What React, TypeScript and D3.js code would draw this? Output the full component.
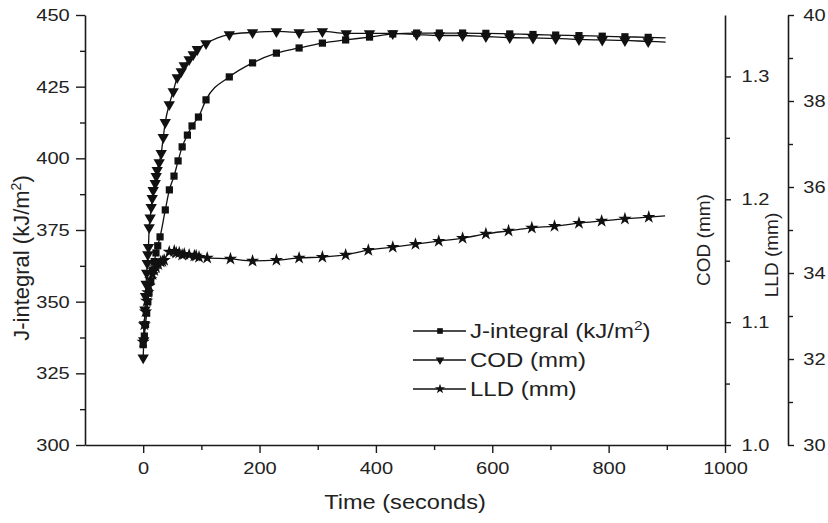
import React, { useEffect, useRef } from "react";
import * as d3 from "d3";

// time (s) and J-integral (kJ/m2)
const jTime = [0, 2, 4, 6, 8, 10, 13, 16, 19, 22, 25, 29, 38, 45, 53, 60, 67, 76, 84, 95, 108, 148, 188, 229, 268, 308, 348, 389, 429, 470, 509, 549, 589, 630, 670, 709, 749, 789, 828, 868, 898];
const jValue = [335, 338, 342, 346, 350, 353, 357, 361, 364, 367, 369.5, 372.6, 382, 389, 393.8, 399.1, 404, 408.1, 411.3, 414.4, 420.4, 428.4, 433.3, 436.7, 438.5, 440.2, 441.3, 442.3, 443.4, 443.7, 443.7, 443.7, 443.6, 443.4, 443.2, 443.0, 442.8, 442.6, 442.4, 442.2, 442.0];

// COD (mm)
const codTime = [0, 1, 2, 3, 4, 5, 6, 7, 8, 9, 10.3, 12, 13.8, 15.5, 17.2, 20.7, 22.4, 24.1, 27.5, 31, 34.5, 37.9, 44.8, 51.6, 58.5, 65.4, 70.6, 79, 86, 93, 108, 148, 188, 229, 268, 308, 349, 389, 429, 470, 509, 549, 589, 630, 670, 709, 749, 789, 828, 868, 898];
const codValue = [1.071, 1.085, 1.098, 1.11, 1.121, 1.131, 1.14, 1.148, 1.155, 1.161, 1.177, 1.185, 1.1935, 1.2008, 1.2073, 1.213, 1.2187, 1.2236, 1.23, 1.2374, 1.2504, 1.2626, 1.2772, 1.2878, 1.2992, 1.304, 1.3089, 1.3138, 1.3179, 1.322, 1.3268, 1.3341, 1.3358, 1.3366, 1.3358, 1.3366, 1.335, 1.335, 1.335, 1.3341, 1.3333, 1.3333, 1.3325, 1.3317, 1.3313, 1.3309, 1.3301, 1.3297, 1.3293, 1.3285, 1.328];

// LLD (mm)
const lldTime = [0, 2, 4, 6, 8, 10, 13, 16, 19, 22, 26, 30, 33, 36, 44.8, 53.4, 56.8, 62, 67, 70.6, 79, 88, 91, 96, 110, 150, 188, 229, 268, 308, 348, 387, 429, 468, 508, 549, 589, 628, 668, 707, 749, 788, 828, 869, 897];
const lldValue = [32.4, 32.8, 33.1, 33.35, 33.55, 33.7, 33.85, 33.97, 34.06, 34.13, 34.2, 34.26, 34.27, 34.3, 34.49, 34.51, 34.47, 34.47, 34.42, 34.44, 34.42, 34.4, 34.4, 34.37, 34.35, 34.33, 34.28, 34.3, 34.35, 34.37, 34.42, 34.53, 34.6, 34.67, 34.74, 34.81, 34.91, 34.98, 35.05, 35.09, 35.16, 35.21, 35.26, 35.3, 35.33];

const xTicks = [0, 200, 400, 600, 800, 1000];
const jTicks = [300, 325, 350, 375, 400, 425, 450];
const codTicks = [1.0, 1.1, 1.2, 1.3];
const lldTicks = [30, 32, 34, 36, 38, 40];

const FONT = "'Liberation Sans', Arial, sans-serif";
const SX = 1.18;

const App = () => {
    const ref = useRef(null);

    useEffect(() => {
        const svg = d3.select(ref.current);
        svg.selectAll("*").remove();

        const top = 15, bottom = 445, left = 85, right = 725, lldX = 788;

        const x = d3.scaleLinear().domain([-100, 1000]).range([left, right]);
        const yJ = d3.scaleLinear().domain([300, 450]).range([bottom, top]);
        const yCod = d3.scaleLinear().domain([1.0, 1.35]).range([bottom, top]);
        const yLld = d3.scaleLinear().domain([30, 40]).range([bottom, top]);

        const styleAxis = (g) => {
            g.select(".domain").attr("stroke", "#1a1a1a").attr("stroke-width", 1.6);
            g.selectAll(".tick line").attr("stroke", "#1a1a1a").attr("stroke-width", 1.4);
            g.selectAll("text")
                .attr("font-family", FONT)
                .attr("font-size", 17)
                .attr("fill", "#222")
                .attr("transform", `scale(${SX},1)`);
        };

        // minor ticks
        const minor = (axis, vals, tx, ty) => {
            svg.append("g")
                .attr("transform", `translate(${tx},${ty})`)
                .call(axis.tickValues(vals).tickSize(5).tickFormat(() => "").tickSizeOuter(0))
                .call(g => {
                    g.select(".domain").remove();
                    g.selectAll(".tick line").attr("stroke", "#1a1a1a").attr("stroke-width", 1.4);
                });
        };
        minor(d3.axisLeft(yJ), [312.5, 337.5, 362.5, 387.5, 412.5, 437.5], left, 0);
        minor(d3.axisBottom(x), [100, 300, 500, 700, 900], 0, bottom);
        minor(d3.axisRight(yCod), [1.05, 1.15, 1.25], right, 0);
        minor(d3.axisRight(yLld), [31, 33, 35, 37, 39], lldX, 0);

        svg.append("g").attr("transform", `translate(${left},0)`)
            .call(d3.axisLeft(yJ).tickValues(jTicks).tickSize(9).tickPadding(4).tickSizeOuter(0))
            .call(styleAxis);

        svg.append("g").attr("transform", `translate(0,${bottom})`)
            .call(d3.axisBottom(x).tickValues(xTicks).tickSize(8).tickPadding(9).tickSizeOuter(0).tickFormat(d3.format("d")))
            .call(styleAxis);

        svg.append("g").attr("transform", `translate(${right},0)`)
            .call(d3.axisRight(yCod).tickValues(codTicks).tickSize(6).tickPadding(8).tickSizeOuter(0).tickFormat(d3.format(".1f")))
            .call(styleAxis);

        svg.append("g").attr("transform", `translate(${lldX},0)`)
            .call(d3.axisRight(yLld).tickValues(lldTicks).tickSize(6).tickPadding(7).tickSizeOuter(0))
            .call(styleAxis);

        // titles
        svg.append("text")
            .attr("transform", `translate(405,509) scale(${SX},1)`)
            .attr("text-anchor", "middle")
            .attr("font-family", FONT).attr("font-size", 20).attr("fill", "#222")
            .text("Time (seconds)");

        const jt = svg.append("text")
            .attr("transform", "translate(29,258) rotate(-90)")
            .attr("text-anchor", "middle")
            .attr("font-family", FONT).attr("font-size", 22).attr("fill", "#222");
        jt.append("tspan").text("J-integral (kJ/m");
        jt.append("tspan").attr("dy", -8).attr("font-size", 14).text("2");
        jt.append("tspan").attr("dy", 8).text(")");

        svg.append("text")
            .attr("transform", "translate(710,240) rotate(-90)")
            .attr("text-anchor", "middle")
            .attr("font-family", FONT).attr("font-size", 19).attr("fill", "#222")
            .text("COD (mm)");

        svg.append("text")
            .attr("transform", "translate(778,255) rotate(-90)")
            .attr("text-anchor", "middle")
            .attr("font-family", FONT).attr("font-size", 19).attr("fill", "#222")
            .text("LLD (mm)");

        const series = [
            { t: jTime, v: jValue, y: yJ, sym: d3.symbolSquare, size: 52, rot: 0 },
            { t: codTime, v: codValue, y: yCod, sym: d3.symbolTriangle, size: 56, rot: 180 },
            { t: lldTime, v: lldValue, y: yLld, sym: d3.symbolStar, size: 55, rot: 0 }
        ];

        series.forEach(s => {
            const pts = s.t.map((t, i) => [x(t), s.y(s.v[i])]);
            svg.append("path")
                .attr("d", d3.line().curve(d3.curveMonotoneX)(pts))
                .attr("fill", "none")
                .attr("stroke", "#111")
                .attr("stroke-width", 1.3);
            // last point is the end of the record, drawn without a marker
            svg.append("g").selectAll("path")
                .data(pts.slice(0, -1))
                .join("path")
                .attr("d", d3.symbol(s.sym, s.size)())
                .attr("transform", d => `translate(${d[0]},${d[1]}) rotate(${s.rot})`)
                .attr("fill", "#111");
        });

        // legend
        const legend = [
            { label: "J-integral (kJ/m", sup: "2", sym: d3.symbolSquare, size: 32, rot: 0 },
            { label: "COD (mm)", sup: null, sym: d3.symbolTriangle, size: 32, rot: 180 },
            { label: "LLD (mm)", sup: null, sym: d3.symbolStar, size: 32, rot: 0 }
        ];
        legend.forEach((l, i) => {
            const ly = 331 + i * 29;
            svg.append("line")
                .attr("x1", 413).attr("x2", 466).attr("y1", ly).attr("y2", ly)
                .attr("stroke", "#111").attr("stroke-width", 1.3);
            svg.append("path")
                .attr("d", d3.symbol(l.sym, l.size)())
                .attr("transform", `translate(440,${ly}) rotate(${l.rot})`)
                .attr("fill", "#111");
            const tx = svg.append("text")
                .attr("transform", `translate(470,${ly + 7}) scale(1.2,1)`)
                .attr("font-family", FONT).attr("font-size", 20).attr("fill", "#222");
            tx.append("tspan").text(l.label);
            if (l.sup) {
                tx.append("tspan").attr("dy", -8).attr("font-size", 13).text(l.sup);
                tx.append("tspan").attr("dy", 8).text(")");
            }
        });
    }, []);

    return (
        <svg ref={ref} width={828} height={523}
            style={{ position: "absolute", left: 0, top: 0, background: "#fff" }} />
    );
};

export default App;
